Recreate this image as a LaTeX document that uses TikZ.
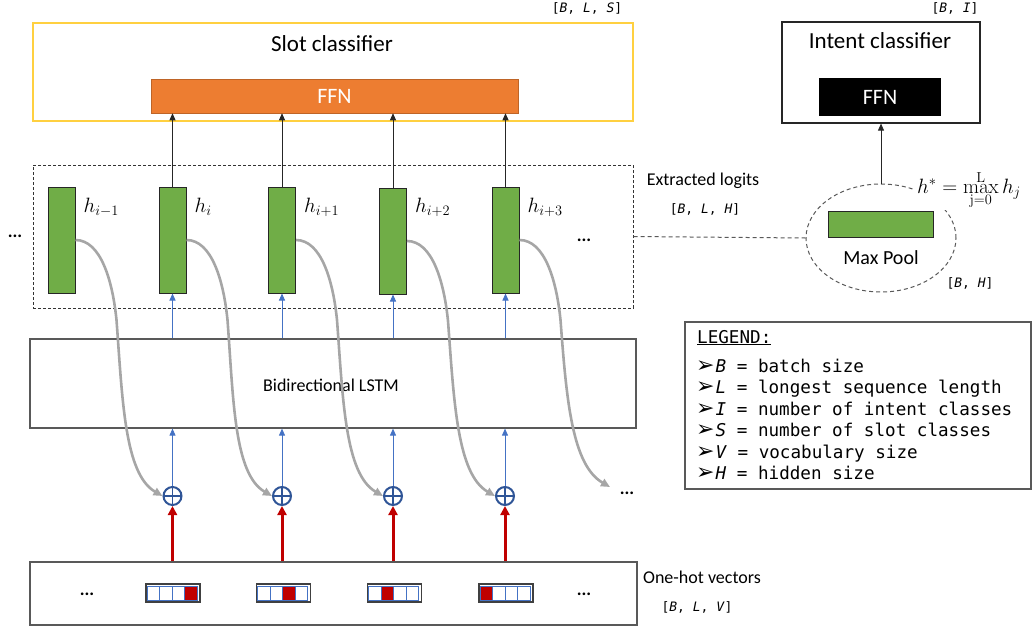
\documentclass[tikz,border=0pt]{standalone}
\usepackage[no-math]{fontspec}
\setmainfont{Carlito}
\setmonofont{DejaVu Sans Mono}
\newfontfamily\symfont{DejaVu Sans}
\usetikzlibrary{arrows.meta,shapes.geometric,calc}

\definecolor{ffnorange}{HTML}{ED7D31}
\definecolor{slotyellow}{HTML}{FFC000}
\definecolor{logitgreen}{HTML}{70AD47}
\definecolor{lstmblue}{HTML}{4472C4}
\definecolor{plusblue}{HTML}{2F5597}
\definecolor{hotred}{HTML}{C00000}
\definecolor{skipgray}{HTML}{A6A6A6}
\definecolor{framegray}{HTML}{595959}

\newcommand{\setfs}[1]{\fontsize{#1}{#1}\selectfont}

\tikzset{
  frame/.style={draw=framegray, line width=1.2pt, inner sep=0pt},
  bar/.style={draw=black!85, fill=logitgreen, line width=1pt, minimum width=27pt, minimum height=106pt, inner sep=0pt},
  plus/.style={circle, draw=plusblue, line width=2pt, fill=white, minimum size=18pt, inner sep=0pt,
    path picture={\draw[plusblue, line width=1.8pt]
      (path picture bounding box.north) -- (path picture bounding box.south)
      (path picture bounding box.west) -- (path picture bounding box.east);}},
  skip/.style={draw=skipgray, line width=2.6pt, -{Triangle[length=9pt,width=8pt]}},
  redarrow/.style={draw=hotred, line width=3pt, -{Triangle[length=9pt,width=9pt]}},
  bluearrow/.style={draw=lstmblue, line width=0.9pt, -{Triangle[length=7pt,width=6pt]}},
  blackarrow/.style={draw=black!85, line width=0.8pt, -{Triangle[length=7pt,width=6pt]}},
  onehot/.style={draw=black!75, line width=1.3pt, minimum width=54pt, minimum height=18pt, inner sep=0pt},
  label/.style={inner sep=0pt},
  dims/.style={inner sep=0pt, font=\setfs{13}\ttfamily},
  dots/.style={inner sep=0pt, font=\setfs{18}\bfseries},
}

\begin{document}
\begin{tikzpicture}[x=1pt, y=-1pt]
\useasboundingbox (0,0) rectangle (1032,627);

% ---------- slot classifier ----------
\node[draw=slotyellow!75!white, line width=1.1pt, minimum width=600pt, minimum height=98pt, inner sep=0pt] (slot) at (333,72) {};
\node[label] (slottitle) at (332,44) {\setfs{23}Slot classifier};
\node[fill=ffnorange, draw=ffnorange!80!black, line width=0.5pt, minimum width=367pt, minimum height=34pt, inner sep=0pt,
      text=white, font=\setfs{22}] (ffn) at (334.5,96) {FFN};
\node[dims] (dimslot) at (587,8) {[\textit{B}, \textit{L}, \textit{S}]};

% ---------- intent classifier ----------
\node[draw=black!85, line width=1.2pt, minimum width=198pt, minimum height=101pt, inner sep=0pt] (intent) at (881,72.5) {};
\node[label] (intenttitle) at (880,41) {\setfs{23}Intent classifier};
\node[fill=black, minimum width=122pt, minimum height=38pt, inner sep=0pt, text=white, font=\setfs{22}] (iffn) at (880,97) {FFN};
\node[dims] (dimintent) at (955,8) {[\textit{B}, \textit{I}]};

% ---------- extracted logits ----------
\node[draw=black!80, line width=1pt, dash pattern=on 3pt off 2pt, minimum width=600pt, minimum height=143pt, inner sep=0pt] (logits) at (333,236.5) {};
\node[bar] (b1) at (61.5,240) {};
\node[bar] (b2) at (172.5,240) {};
\node[bar] (b3) at (282,240) {};
\node[bar] (b4) at (393,241) {};
\node[bar] (b5) at (505.5,240) {};
\node[label, anchor=base west] (hl1) at ($(b1.north east)+(8,26)$) {\setfs{21}$h_{i-1}$};
\node[label, anchor=base west] (hl2) at ($(b2.north east)+(8,26)$) {\setfs{21}$h_{i}$};
\node[label, anchor=base west] (hl3) at ($(b3.north east)+(8,26)$) {\setfs{21}$h_{i+1}$};
\node[label, anchor=base west] (hl4) at ($(b4.north east)+(8,25)$) {\setfs{21}$h_{i+2}$};
\node[label, anchor=base west] (hl5) at ($(b5.north east)+(8,26)$) {\setfs{21}$h_{i+3}$};
\node[dots] (ldots) at (15,236) {...};
\node[dots] (rdots) at (584,240) {...};
\node[label] (logtitle) at (703,181) {\setfs{18}Extracted logits};
\node[dims] (dimlog) at (705,209) {[\textit{B}, \textit{L}, \textit{H}]};

% ---------- max pool ----------
\node[ellipse, draw=framegray, line width=1pt, dash pattern=on 4pt off 3pt, minimum width=150pt, minimum height=108pt, inner sep=0pt] (pool) at (881,238) {};
\node[draw=black!85, fill=logitgreen, line width=1pt, minimum width=105pt, minimum height=26pt, inner sep=0pt] (pbar) at (880.5,224) {};
\node[label] (pooltitle) at (881,258) {\setfs{20}Max Pool};
\node[dims] (dimpool) at (970,283) {[\textit{B}, \textit{H}]};
\node[fill=white, inner sep=2pt] (maxf) at (969,190) {\setfs{20}$h^{*}=\max\limits_{\mathrm{j}=0}^{\mathrm{L}} h_j$};
\draw[draw=framegray, line width=1pt, dash pattern=on 4pt off 3pt] (logits.east) -- (pool.west);
\draw[blackarrow] (pool.north) -- (intent.south);

% ---------- bidirectional LSTM ----------
\node[frame, minimum width=606pt, minimum height=89pt] (lstm) at (333,383.5) {};
\node[label] (lstmtitle) at (331,385) {\setfs{18}Bidirectional LSTM};

% ---------- additions ----------
\node[plus] (p1) at (172.5,496) {};
\node[plus] (p2) at (282,496) {};
\node[plus] (p3) at (393,496) {};
\node[plus] (p4) at (505,496) {};
\coordinate (tail) at (610,487);
\node[dots] (tdots) at (627,493) {...};

% ---------- one-hot inputs ----------
\node[frame, minimum width=607pt, minimum height=63pt] (inputs) at (333.5,593.5) {};
\node[label] (intitle) at (702,577) {\setfs{18}One-hot vectors};
\node[dims] (diminput) at (697,607) {[\textit{B}, \textit{L}, \textit{V}]};
\node[dots] (idotsl) at (87,594) {...};
\node[dots] (idotsr) at (584,594) {...};

\foreach \name/\x/\hot in {v1/173/3, v2/283.5/2, v3/394.5/1, v4/506/0}{
  \node[onehot] (\name) at (\x,593) {};
  \foreach \k in {0,...,3}{
    \ifnum\k=\hot
      \draw[lstmblue, line width=0.9pt, fill=hotred] ($(\name.west)+(2+12.5*\k,-7)$) rectangle ++(12.5,14);
    \else
      \draw[lstmblue, line width=0.9pt, fill=white] ($(\name.west)+(2+12.5*\k,-7)$) rectangle ++(12.5,14);
    \fi
  }
}

% ---------- connectors ----------
\foreach \b/\p in {b2/p1, b3/p2, b4/p3, b5/p4}{
  \draw[blackarrow] (\b.north) -- (\b |- ffn.south);
  \draw[bluearrow] (\b |- lstm.north) -- (\b.south);
  \draw[bluearrow] (\p.north) -- (\p |- lstm.south);
  \draw[redarrow] (\p |- inputs.north) -- (\p.south);
}

% skip connections from each hidden state to the next addition
\foreach \b/\p in {b1/p1, b2/p2, b3/p3, b4/p4}{
  \draw[skip] (\b.east) .. controls +(25,0) and +(-4,-40) .. ++(41,80)
    .. controls +(6,80) and +(-38,-22) .. (\p.west);
}
\draw[skip] (b5.east) .. controls +(25,0) and +(-4,-40) .. ++(41,80)
    .. controls +(6,80) and +(-38,-22) .. (tail);

% ---------- legend ----------
\node[frame, minimum width=346pt, minimum height=167pt] (legend) at (858,405.5) {};
\node[label, anchor=base west] (legtitle) at (697,343) {\setfs{17.6}\ttfamily\underline{LEGEND:}};
\foreach \y/\v/\t [count=\i] in {366/B/batch size, 387/L/longest sequence length, 409/I/number of intent classes,
    430/S/number of slot classes, 452/V/vocabulary size, 473/H/hidden size}{
  \node[label, anchor=base west] (leg\i) at (696,\y+6) {\raisebox{-0.5pt}{\setfs{22}\symfont ➢}\hspace{1pt}{\setfs{17.6}\ttfamily\textit{\v} = \t}};
}
\end{tikzpicture}
\end{document}
